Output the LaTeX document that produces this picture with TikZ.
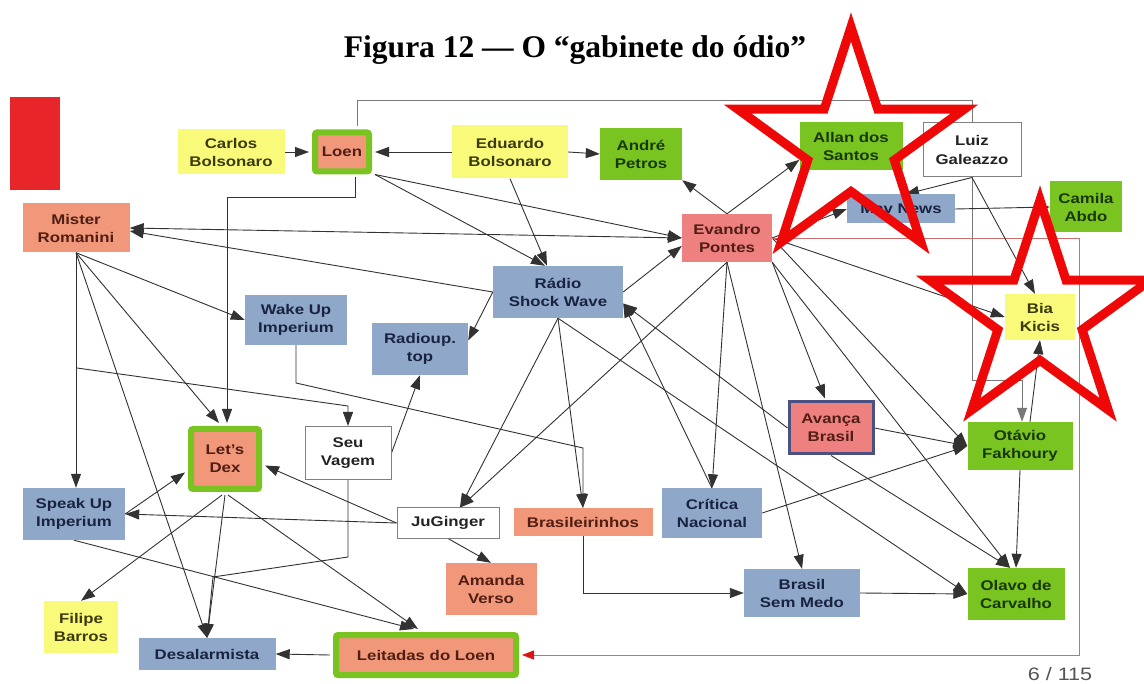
\documentclass[tikz,border=0pt]{standalone}
\usepackage{fontspec}
\setmainfont{Liberation Serif}
\newfontfamily\nf{Liberation Sans}[FakeStretch=1.2]
\usetikzlibrary{arrows.meta,calc}
\pgfdeclarelayer{back}
\pgfdeclarelayer{bg}
\pgfsetlayers{back,bg,main}
\definecolor{yel}{RGB}{250,250,122}
\definecolor{grn}{RGB}{122,196,34}
\definecolor{sal}{RGB}{242,152,122}
\definecolor{pnk}{RGB}{238,128,128}
\definecolor{blu}{RGB}{143,168,201}
\definecolor{edg}{RGB}{50,50,50}
\definecolor{loopc}{RGB}{120,120,120}
\definecolor{redl}{RGB}{205,110,110}
\definecolor{redtip}{RGB}{220,20,20}
\definecolor{redbox}{RGB}{232,38,42}
\definecolor{pagegray}{RGB}{85,85,85}
\definecolor{starred}{RGB}{238,8,8}
\definecolor{yt}{RGB}{60,58,15}
\definecolor{gt}{RGB}{25,55,5}
\definecolor{st}{RGB}{80,30,20}
\definecolor{bt}{RGB}{25,35,65}
\definecolor{wt}{RGB}{35,35,35}
\definecolor{avb}{RGB}{75,80,130}
\tikzset{
  base/.style={inner sep=0pt, align=center, font=\nf\bfseries\fontsize{14}{18}\selectfont},
  yb/.style={base, fill=yel, text=yt},
  gb/.style={base, fill=grn, text=gt},
  sb/.style={base, fill=sal, text=st},
  pb/.style={base, fill=pnk, text=st},
  bb/.style={base, fill=blu, text=bt},
  wb/.style={base, fill=white, draw=gray, line width=1pt, text=wt},
  db/.style={base, fill=sal, draw=grn, line width=6pt, rounded corners=2pt, text=st},
  ar/.style={draw=edg, line width=0.9pt, -{Triangle[length=14pt,width=10pt]}},
  arb/.style={draw=edg, line width=0.9pt, {Triangle[length=14pt,width=10pt]}-{Triangle[length=14pt,width=10pt]}},
  starline/.style={draw=starred, line width=9pt, miter limit=10},
}
\begin{document}
\begin{tikzpicture}[x=1pt,y=-1pt]
\useasboundingbox (0,0) rectangle (1144,684);
\begin{pgfonlayer}{back}
\fill[white] (0,0) rectangle (1144,684);
\end{pgfonlayer}
\fill[redbox] (10,97) rectangle (60,190);
\node[font=\bfseries\fontsize{31.5}{36}\selectfont, anchor=base] (title) at (575,58) {Figura 12 — O “gabinete do ódio”};

\node[yb, minimum width=107, minimum height=45] (carlos) at (231,152) {Carlos\\Bolsonaro};
\node[db, minimum width=54, minimum height=39] (loen) at (342,152) {Loen};
\node[yb, minimum width=116, minimum height=53] (eduardo) at (510,152) {Eduardo\\Bolsonaro};
\node[gb, minimum width=82, minimum height=52] (andre) at (641,154) {André\\Petros};
\node[gb, minimum width=103, minimum height=48] (allan) at (851,146) {Allan dos\\Santos};
\node[wb, minimum width=98, minimum height=54] (galeazzo) at (972,150) {Luiz\\Galeazzo};
\node[bb, minimum width=108, minimum height=29] (navnews) at (901,209) {Mav News};
\node[gb, minimum width=72, minimum height=51] (camila) at (1086,207) {Camila\\Abdo};
\node[sb, minimum width=107, minimum height=49] (mister) at (76,228) {Mister\\Romanini};
\node[pb, minimum width=90, minimum height=48] (evandro) at (727,238) {Evandro\\Pontes};
\node[bb, minimum width=130, minimum height=52] (radio) at (558,292) {Rádio\\Shock Wave};
\node[yb, minimum width=70, minimum height=46] (bia) at (1040,317) {Bia\\Kicis};
\node[bb, minimum width=102, minimum height=50] (wakeup) at (296,320) {Wake Up\\Imperium};
\node[bb, minimum width=96, minimum height=52] (radioup) at (420,349) {Radioup.\\top};
\node[pb, draw=avb, line width=3pt, minimum width=84, minimum height=52] (avanca) at (831,428) {Avança\\Brasil};
\node[gb, minimum width=105, minimum height=48] (otavio) at (1020,446) {Otávio\\Fakhoury};
\node[db, minimum width=68, minimum height=60] (letsdex) at (225,459) {Let’s\\Dex};
\node[wb, minimum width=86, minimum height=53] (seuvagem) at (348,453) {Seu\\Vagem};
\node[bb, minimum width=102, minimum height=52] (speakup) at (74,514) {Speak Up\\Imperium};
\node[wb, minimum width=102, minimum height=30] (juginger) at (448,523) {JuGinger};
\node[sb, minimum width=139, minimum height=28] (brasil) at (583,522) {Brasileirinhos};
\node[bb, minimum width=100, minimum height=49] (critica) at (712,513) {Crítica\\Nacional};
\node[sb, minimum width=91, minimum height=52] (amanda) at (491,589) {Amanda\\Verso};
\node[bb, minimum width=116, minimum height=48] (bsm) at (802,593) {Brasil\\Sem Medo};
\node[gb, minimum width=97, minimum height=52] (olavo) at (1016,594) {Olavo de\\Carvalho};
\node[yb, minimum width=74, minimum height=52] (filipe) at (81,627) {Filipe\\Barros};
\node[bb, minimum width=137, minimum height=32] (desal) at (207,654) {Desalarmista};
\node[db, minimum width=180, minimum height=40] (leitadas) at (426,655) {Leitadas do Loen};
\node[font=\nf\fontsize{18}{20}\selectfont, text=pagegray] (page) at (1060,674) {6 / 115};

\coordinate (m1) at (77,368);
\coordinate (m2) at (348,406);
\coordinate (w1) at (296,383);
\coordinate (w2) at (583,448);
\coordinate (lo1) at (972,380);
\coordinate (s1) at (348,557);
\coordinate (s2) at (213,577);
\coordinate (r1) at (1079,238);
\coordinate (le) at (522,655);

\begin{pgfonlayer}{bg}
\draw[ar] (carlos.east) -- ($(loen.west)+(-3,0)$);
\draw[ar] (eduardo.west) -- ($(loen.east)+(3,0)$);
\draw[ar] (eduardo.east) -- (andre.west);
\draw[ar] ($(loen.south east)+(3,0)$) -- (evandro.west);
\draw[ar] ($(loen.south east)+(3,0)$) -- ($(radio.north)+(-13,0)$);
\draw[ar] (eduardo.south) -- ($(radio.north)+(-11,0)$);
\draw[ar] ($(loen.south)+(13,3)$) -- ++(0,20) -| ($(letsdex.north)+(2,-3)$);
\draw[ar, draw=loopc] ($(loen.north)+(15,-3)$) -- ++(0,-26) -| (lo1) -| ($(otavio.north)+(2,0)$);
\draw[arb] (mister.east) -- (evandro.west);
\draw[ar] (radio.west) -- ($(mister.east)+(0,3)$);
\draw[ar] (mister.south) -- (wakeup.west);
\draw[ar] (mister.south) -- ($(speakup.north)+(2,0)$);
\draw[ar] (mister.south) -- ($(letsdex.north)+(-6,-3)$);
\draw[ar] (mister.south) -- (desal.north);
\draw[ar] (m1) -- (m2) -- (seuvagem.north);
\draw[ar] (wakeup.south) -- (w1) -- (w2) -- (brasil.north);
\draw[ar] (speakup.east) -- ($(letsdex.200)+(-3,0)$);
\draw[ar] (juginger.west) -- (speakup.east);
\draw[ar] (juginger.west) -- ($(letsdex.-10)+(3,0)$);
\draw[ar] ($(letsdex.south)+(-3,3)$) -- (filipe.north);
\draw[ar] ($(letsdex.south)+(0,3)$) -- (desal.north);
\draw[ar] ($(letsdex.south)+(3,3)$) -- ($(leitadas.north)+(-8,-3)$);
\draw[ar] (speakup.south) -- ($(leitadas.north)+(-12,-3)$);
\draw[ar] (seuvagem.south) -- (s1) -- (s2) -- (desal.north);
\draw[ar] (seuvagem.east) -- (radioup.south);
\draw[ar] (radio.west) -- (radioup.10);
\draw[ar] (radio.east) -- (evandro.190);
\draw[ar] (radio.south) -- ($(juginger.north)+(12,0)$);
\draw[ar] (radio.south) -- (brasil.north);
\draw[ar] (radio.south) -- (olavo.west);
\draw[ar] (evandro.south) -- ($(juginger.north)+(12,0)$);
\draw[ar] (evandro.south) -- (critica.north);
\draw[ar] (evandro.south) -- (bsm.north);
\draw[ar] (critica.north) -- (radio.-10);
\draw[ar] (avanca.west) -- (radio.-10);
\draw[ar] (evandro.north) -- (andre.south east);
\draw[ar] (evandro.north) -- (allan.195);
\draw[ar] (evandro.east) -- (navnews.west);
\draw[ar] (evandro.east) -- (bia.west);
\draw[ar] (evandro.east) -- (otavio.west);
\draw[ar] (evandro.south east) -- ($(olavo.north)+(-6,0)$);
\draw[ar] (evandro.south east) -- ($(avanca.north)+(-6,-2)$);
\draw[line width=0.9pt, draw=redl, -{Triangle[length=12pt,width=9pt,color=redtip]}] (evandro.east) -- (r1) |- (le);
\draw[ar] (galeazzo.south) -- ($(navnews.north)+(4,0)$);
\draw[ar] (galeazzo.south) -- ($(bia.north)+(-5,0)$);
\draw[ar] (navnews.east) -- (camila.west);
\draw[ar] (avanca.east) -- (otavio.west);
\draw[ar] (avanca.south) -- ($(olavo.north)+(-6,0)$);
\draw[ar] (critica.east) -- (otavio.west);
\draw[ar] (otavio.south) -- (olavo.north);
\draw[ar] ($(otavio.north)+(10,0)$) -- (bia.south);
\draw[ar] (brasil.south) |- (bsm.west);
\draw[ar] (bsm.east) -- (olavo.west);
\draw[ar] (juginger.south) -- (amanda.north);
\draw[ar] ($(leitadas.west)+(-3,0)$) -- (desal.east);
\end{pgfonlayer}

\draw[starline] plot[samples at={0,...,9}] ({851+ifthenelse(mod(\x,2)==0,119,45.5)*cos(90+36*\x)}, {146-ifthenelse(mod(\x,2)==0,119,45.5)*sin(90+36*\x)}) -- cycle;
\draw[starline] plot[samples at={0,...,9}] ({1040+ifthenelse(mod(\x,2)==0,116,44.3)*cos(90+36*\x)}, {316-ifthenelse(mod(\x,2)==0,116,44.3)*sin(90+36*\x)}) -- cycle;
\end{tikzpicture}
\end{document}
